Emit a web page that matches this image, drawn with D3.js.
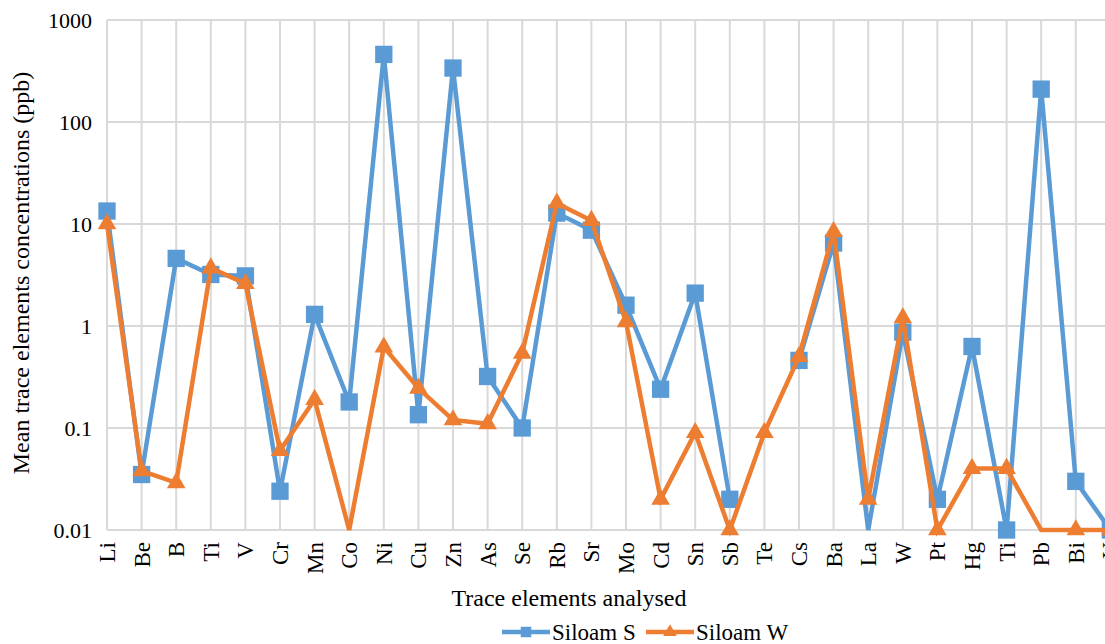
<!DOCTYPE html>
<html>
<head>
<meta charset="utf-8">
<script src="https://cdn.jsdelivr.net/npm/d3@7"></script>
<style>
  body { margin: 0; background: #fff; }
  text { font-family: "Liberation Serif", "Times New Roman", serif; fill: #000; }
</style>
</head>
<body>
<svg id="chart" width="1105" height="644"></svg>
<script>
// elements along the x axis (Ti appears twice in the original figure)
var elements = ['Li','Be','B','Ti','V','Cr','Mn','Co','Ni','Cu','Zn','As','Se','Rb','Sr','Mo','Cd','Sn','Sb','Te','Cs','Ba','La','W','Pt','Hg','Ti','Pb','Bi','U'];
// mean concentrations (ppb); 0 = below axis, null = no value
var siloamS = [13.4, 0.035, 4.6, 3.2, 3.1, 0.024, 1.3, 0.18, 460, 0.135, 338, 0.32, 0.1, 12.8, 8.7, 1.6, 0.24, 2.1, 0.02, null, 0.46, 6.5, 0, 0.87, 0.02, 0.63, 0.01, 210, 0.03, 0.01];
var siloamW = [10, 0.038, 0.029, 3.7, 2.6, 0.06, 0.19, 0, 0.62, 0.245, 0.12, 0.11, 0.54, 16, 10.8, 1.1, 0.02, 0.09, 0.01, 0.09, 0.5, 8.4, 0.02, 1.2, 0.01, 0.04, 0.04, 0, 0.01, 0.01];
var yTicks = [0.01, 0.1, 1, 10, 100, 1000];
var seriesNames = ['Siloam S', 'Siloam W'];

var svg = d3.select('#chart');
var plotLeft = 107, plotTop = 20, plotBottom = 530, step = 34.6;
var serif = '"Liberation Serif", "Times New Roman", serif';

var x = d3.scalePoint()
  .domain(d3.range(elements.length))
  .range([plotLeft, plotLeft + step * (elements.length - 1)]);
var y = d3.scaleLog().domain([0.01, 1000]).range([plotBottom, plotTop]);

var gridColor = '#d9d9d9';

// horizontal grid
svg.append('g').selectAll('line').data(yTicks).enter().append('line')
  .attr('x1', plotLeft).attr('x2', 1105)
  .attr('y1', function(d){ return y(d); })
  .attr('y2', function(d){ return y(d); })
  .attr('stroke', gridColor).attr('stroke-width', 2);

// vertical grid, one per category
svg.append('g').selectAll('line').data(x.domain()).enter().append('line')
  .attr('x1', function(d){ return x(d); })
  .attr('x2', function(d){ return x(d); })
  .attr('y1', plotTop).attr('y2', plotBottom)
  .attr('stroke', gridColor).attr('stroke-width', 2);

// y axis labels
var yAxis = svg.append('g')
  .attr('transform', 'translate(' + plotLeft + ',0)')
  .call(d3.axisLeft(y).tickValues(yTicks).tickSize(0).tickPadding(15)
    .tickFormat(function(d){ return String(d); }));
yAxis.select('.domain').remove();
yAxis.attr('font-family', serif);
yAxis.selectAll('text').style('font-size', '22px');

// x axis labels, rotated
var xAxis = svg.append('g')
  .attr('transform', 'translate(0,' + plotBottom + ')')
  .call(d3.axisBottom(x).tickSize(0).tickFormat(function(i){ return elements[i]; }));
xAxis.select('.domain').remove();
xAxis.attr('font-family', serif);
xAxis.selectAll('text')
  .style('font-size', '23px')
  .attr('text-anchor', 'end')
  .attr('transform', 'rotate(-90)')
  .attr('x', -12).attr('y', 0).attr('dy', '0.33em');

// axis titles
svg.append('text')
  .attr('x', 569).attr('y', 606)
  .attr('text-anchor', 'middle')
  .attr('font-family', serif)
  .style('font-size', '24px')
  .text('Trace elements analysed');

svg.append('text')
  .attr('transform', 'translate(29,' + 273 + ') rotate(-90)')
  .attr('text-anchor', 'middle')
  .attr('font-family', serif)
  .style('font-size', '24px')
  .text('Mean trace elements concentrations (ppb)');

var colors = ['#5b9bd5', '#ed7d31'];
var symbols = [d3.symbol().type(d3.symbolSquare).size(300), d3.symbol().type(d3.symbolTriangle).size(150)];

var line = d3.line()
  .defined(function(d){ return d != null; })
  .x(function(d, i){ return x(i); })
  .y(function(d){ return d > 0 ? y(d) : y(0.01); });

[siloamS, siloamW].forEach(function(values, k){
  svg.append('path')
    .datum(values)
    .attr('fill', 'none')
    .attr('stroke', colors[k])
    .attr('stroke-width', 4.5)
    .attr('stroke-linejoin', 'miter')
    .attr('d', line);

  var pts = values.map(function(v, i){ return {v: v, i: i}; })
    .filter(function(p){ return p.v != null && p.v > 0; });

  svg.append('g').selectAll('path').data(pts).enter().append('path')
    .attr('d', symbols[k])
    .attr('transform', function(p){ return 'translate(' + x(p.i) + ',' + y(p.v) + ')'; })
    .attr('fill', colors[k]);
});

// legend
var legend = svg.append('g');
var legendItems = [{x: 502, name: seriesNames[0]}, {x: 646, name: seriesNames[1]}];
legendItems.forEach(function(item, k){
  legend.append('line')
    .attr('x1', item.x).attr('x2', item.x + 48)
    .attr('y1', 632).attr('y2', 632)
    .attr('stroke', colors[k]).attr('stroke-width', 4.5);
  legend.append('path')
    .attr('d', k == 0 ? d3.symbol().type(d3.symbolSquare).size(110)() : d3.symbol().type(d3.symbolTriangle).size(80)())
    .attr('transform', 'translate(' + (item.x + 24) + ',632)')
    .attr('fill', colors[k]);
  legend.append('text')
    .attr('x', item.x + 50).attr('y', 640)
    .attr('font-family', serif)
    .style('font-size', '23px')
    .text(item.name);
});
</script>
</body>
</html>
